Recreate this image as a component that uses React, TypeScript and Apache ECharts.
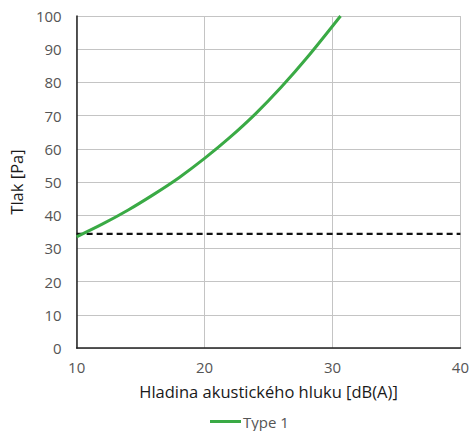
import React, { useEffect, useRef } from "react";
import * as echarts from "echarts";

const seriesName = "Type 1";
const noiseLevels = [10, 12, 14, 16, 18, 20, 22, 24, 26, 28, 30.63];
const pressures = [33.5, 37.3, 41.5, 46.2, 51.3, 57.1, 63.5, 70.6, 78.6, 87.4, 100];
const limitX = [10, 40];
const limitY = [34.4, 34.4];
const xTicks = { min: 10, max: 40, interval: 10 };
const yTicks = { min: 0, max: 100, interval: 10 };
const xName = "Hladina akustického hluku [dB(A)]";
const yName = "Tlak [Pa]";

const FONT = "Open Sans";

export default function App() {
  const ref = useRef<HTMLDivElement>(null);
  useEffect(() => {
    if (!ref.current) return;
    const chart = echarts.init(ref.current, undefined, { renderer: "svg" });
    chart.setOption({
      animation: false,
      backgroundColor: "#ffffff",
      textStyle: { fontFamily: FONT },
      grid: { left: 76, right: 11, top: 16, bottom: 83, containLabel: false },
      legend: {
        data: [seriesName],
        left: 205,
        top: 409,
        icon: "rect",
        itemWidth: 31,
        itemHeight: 3,
        itemGap: 4,
        textStyle: { fontFamily: FONT, fontSize: 15, color: "#555555", padding: [0, 0, 0, -3] },
      },
      xAxis: {
        type: "value",
        min: xTicks.min,
        max: xTicks.max,
        interval: xTicks.interval,
        name: xName,
        nameLocation: "middle",
        nameGap: 35,
        nameTextStyle: { fontFamily: FONT, fontSize: 16.5, color: "#1a1a1a" },
        axisLine: { show: true, onZero: false, lineStyle: { color: "#222222", width: 1.5 } },
        axisTick: { show: false },
        axisLabel: { fontFamily: FONT, fontSize: 15, color: "#555555", margin: 11 },
        splitLine: { show: true, lineStyle: { color: "#c4c4c4", width: 1 } },
      },
      yAxis: {
        type: "value",
        min: yTicks.min,
        max: yTicks.max,
        interval: yTicks.interval,
        name: yName,
        nameLocation: "middle",
        nameGap: 47,
        nameTextStyle: { fontFamily: FONT, fontSize: 16.5, color: "#1a1a1a" },
        axisLine: { show: true, onZero: false, lineStyle: { color: "#222222", width: 1.5 } },
        axisTick: { show: false },
        axisLabel: { fontFamily: FONT, fontSize: 15, color: "#555555", margin: 15 },
        splitLine: { show: true, lineStyle: { color: "#c4c4c4", width: 1 } },
      },
      series: [
        {
          name: "limit",
          type: "line",
          data: limitX.map((x, i) => [x, limitY[i]]),
          showSymbol: false,
          symbol: "none",
          lineStyle: { color: "#111111", width: 2.2, type: [6, 4] },
          silent: true,
          z: 2,
        },
        {
          name: seriesName,
          type: "line",
          data: noiseLevels.map((x, i) => [x, pressures[i]]),
          smooth: 0.3,
          showSymbol: false,
          symbol: "none",
          itemStyle: { color: "#3aaa45" },
          lineStyle: { color: "#3aaa45", width: 3 },
          z: 3,
        },
      ],
    });
    return () => chart.dispose();
  }, []);
  return (
    <div
      ref={ref}
      style={{ position: "fixed", left: 0, top: 0, width: 472, height: 431 }}
    />
  );
}
